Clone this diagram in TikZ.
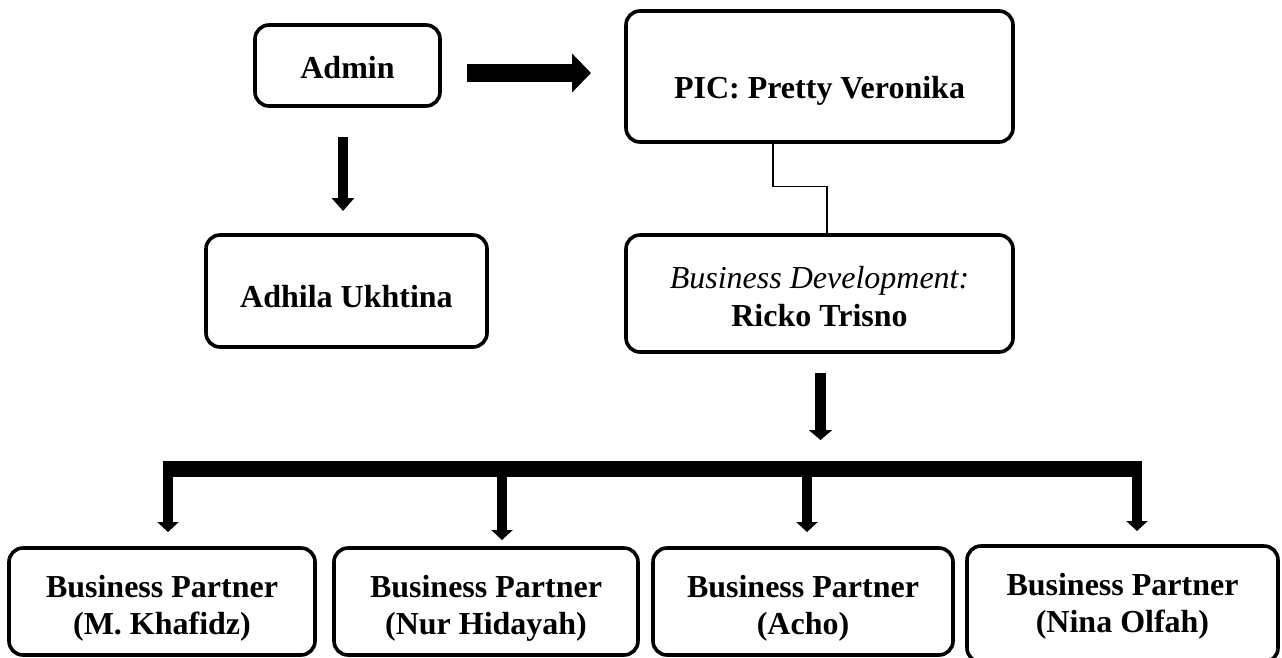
\documentclass[tikz,border=0pt]{standalone}
\usepackage{fontspec}
\setmainfont{Liberation Serif}
\usetikzlibrary{arrows.meta}
\begin{document}
\begin{tikzpicture}[x=1pt,y=-1pt,
  box/.style={draw, line width=3.6pt, rounded corners=14pt, inner sep=0pt},
  txt/.style={align=center, inner sep=0pt, font=\fontsize{32}{37.5}\selectfont\bfseries},
  blockarrow/.style n args={3}{line width=#1, -{Triangle[length=#2, width=#3]}},
  bar/.style={line width=16pt},
  thin/.style={line width=1.2pt}]
\useasboundingbox (0,0) rectangle (1282,657);

% boxes
\node[box, minimum width=185pt, minimum height=81pt] (admin) at (347.5,65.5) {};
\node[box, minimum width=387pt, minimum height=131pt] (pic) at (819.5,76.5) {};
\node[box, minimum width=281pt, minimum height=112pt] (adhila) at (346.5,291) {};
\node[box, minimum width=387pt, minimum height=117pt] (bizdev) at (819.5,293.5) {};
\node[box, minimum width=306pt, minimum height=107pt] (bp1) at (162,601.5) {};
\node[box, minimum width=304pt, minimum height=107pt] (bp2) at (486,601.5) {};
\node[box, minimum width=300pt, minimum height=107pt] (bp3) at (803,601.5) {};
\node[box, minimum width=311pt, minimum height=116pt] (bp4) at (1122.5,604) {};

% texts
\node[txt] (admintxt) at ([yshift=-2.5pt]admin.center) {Admin};
\node[txt] (pictxt) at ([yshift=-14pt]pic.center) {PIC: Pretty Veronika};
\node[txt] (adhilatxt) at ([yshift=-6pt]adhila.center) {Adhila Ukhtina};
\node[txt] (biztxt) at ([yshift=-3pt]bizdev.center) {{\mdseries\itshape Business Development:}\\Ricko Trisno};
\node[txt] (bp1txt) at ([yshift=-7pt]bp1.center) {Business Partner\\(M. Khafidz)};
\node[txt] (bp2txt) at ([yshift=-7pt]bp2.center) {Business Partner\\(Nur Hidayah)};
\node[txt] (bp3txt) at ([yshift=-7pt]bp3.center) {Business Partner\\(Acho)};
\node[txt] (bp4txt) at ([yshift=-2.5pt]bp4.center) {Business Partner\\(Nina Olfah)};

% free ends of block arrows
\coordinate (adminR1) at (467,73);
\coordinate (adminR2) at (591,73);
\coordinate (adminD1) at (343,137);
\coordinate (adminD2) at (343,211);
\coordinate (bizD1) at (820.5,373);
\coordinate (bizD2) at (820.5,440);
\coordinate (barL) at (163,469);
\coordinate (barR) at (1142,469);
\coordinate (d1a) at (168,469);  \coordinate (d1b) at (168,532);
\coordinate (d2a) at (502,469);  \coordinate (d2b) at (502,540);
\coordinate (d3a) at (807,469);  \coordinate (d3b) at (807,532);
\coordinate (d4a) at (1137,469); \coordinate (d4b) at (1137,531);

% connectors
\draw[blockarrow={18pt}{19pt}{38pt}] (adminR1) -- (adminR2);
\draw[blockarrow={10pt}{13pt}{22pt}] (adminD1) -- (adminD2);
\draw[thin] ([xshift=-46.5pt]pic.south) |- ([xshift=7.5pt,yshift=47pt]bizdev.north) -- ([xshift=7.5pt]bizdev.north);
\draw[blockarrow={11pt}{10pt}{23pt}] (bizD1) -- (bizD2);
\draw[bar] (barL) -- (barR);
\draw[blockarrow={10pt}{10pt}{21pt}] (d1a) -- (d1b);
\draw[blockarrow={10pt}{10pt}{21pt}] (d2a) -- (d2b);
\draw[blockarrow={10pt}{10pt}{21pt}] (d3a) -- (d3b);
\draw[blockarrow={10pt}{10pt}{21pt}] (d4a) -- (d4b);
\end{tikzpicture}
\end{document}
